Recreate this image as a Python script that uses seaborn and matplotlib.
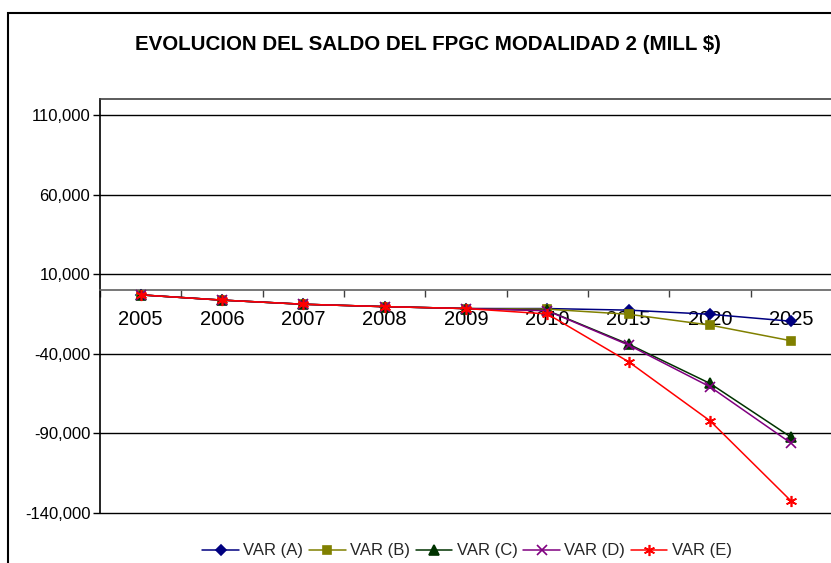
import matplotlib
matplotlib.use("Agg")
import matplotlib.pyplot as plt
import matplotlib.patches as mpatches
import seaborn as sns
import pandas as pd
from matplotlib.ticker import FuncFormatter, FixedLocator

categories = ["2005", "2006", "2007", "2008", "2009", "2010", "2015", "2020", "2025"]
var_a = [-3000, -6300, -8900, -10400, -11600, -11600, -12600, -15200, -19600]
var_b = [-3000, -6300, -8900, -10400, -11600, -12000, -15200, -22000, -31900]
var_c = [-3000, -6300, -8900, -10400, -11600, -12800, -34000, -58700, -92600]
var_d = [-3000, -6300, -8900, -10400, -11600, -13000, -34600, -60800, -96400]
var_e = [-3000, -6300, -8900, -10400, -11600, -15000, -45100, -82200, -132800]
series_names = ["VAR (A)", "VAR (B)", "VAR (C)", "VAR (D)", "VAR (E)"]
y_ticks = [-140000, -90000, -40000, 10000, 60000, 110000]

colors = ["#000080", "#808000", "#003300", "#800080", "#FF0000"]
markers = ["D", "s", "^", "x", (6, 2, 0)]
msizes = [5, 6, 7, 7, 8]

rows = []
for name, vals in zip(series_names, [var_a, var_b, var_c, var_d, var_e]):
    for i, (c, v) in enumerate(zip(categories, vals)):
        rows.append({"pos": i, "year": c, "value": v, "serie": name})
df = pd.DataFrame(rows)

sns.set_theme(style="white")
plt.rcParams["font.family"] = ["Liberation Sans", "DejaVu Sans"]

fig = plt.figure(figsize=(8.31, 5.63), dpi=100)
ax = fig.add_axes([100 / 831, 1 - 512.7 / 563, 732 / 831, (512.7 - 99.3) / 563])

for name, col, mk, ms in zip(series_names, colors, markers, msizes):
    sub = df[df["serie"] == name]
    sns.lineplot(data=sub, x="pos", y="value", ax=ax, color=col, marker=mk,
                 markersize=ms, markeredgecolor=col, markerfacecolor=col,
                 markeredgewidth=1.2, linewidth=1.1, label=name, zorder=3)

ax.set_xlim(-0.5, len(categories) - 0.5)
ax.set_ylim(-140000, 120000)
ax.set_xlabel("")
ax.set_ylabel("")

ax.set_yticks(y_ticks)
ax.yaxis.set_major_formatter(FuncFormatter(lambda v, p: f"{int(v):,}"))
ax.tick_params(axis="y", which="major", left=True, length=5, width=1, color="black",
               direction="out", labelsize=12, pad=2, labelcolor="black")
for yv in y_ticks:
    ax.axhline(yv, color="black", lw=1.0, zorder=1, clip_on=False)

ax.set_xticks(range(len(categories)))
ax.set_xticklabels(categories)
ax.xaxis.set_minor_locator(FixedLocator([i + 0.5 for i in range(-1, len(categories))]))
ax.tick_params(axis="x", which="major", bottom=True, length=0, labelsize=14.5, pad=14,
               labelcolor="black")
ax.tick_params(axis="x", which="minor", bottom=True, length=5, width=1, color="#404040",
               direction="out")

ax.spines["bottom"].set_position(("data", 0))
ax.spines["bottom"].set_color("#606060")
ax.spines["bottom"].set_linewidth(1.2)
ax.spines["left"].set_color("black")
ax.spines["left"].set_linewidth(1.2)
ax.spines["top"].set_color("#404040")
ax.spines["top"].set_linewidth(1.2)
ax.spines["right"].set_visible(False)

ax.get_legend().remove()
handles, labels = ax.get_legend_handles_labels()
fig.legend(handles, labels, loc="center", bbox_to_anchor=(467 / 831, 1 - 551 / 563),
           ncol=5, frameon=False, fontsize=12, handlelength=2.2, handletextpad=0.25,
           columnspacing=0.35, borderaxespad=0)

fig.text(428 / 831, 1 - 44 / 563, "EVOLUCION DEL SALDO DEL FPGC MODALIDAD 2 (MILL $)",
         ha="center", va="center", fontsize=14.8, fontweight="bold", color="black")

frame = mpatches.Rectangle((7.5 / 831, -0.2), 2.0, (1 - 12.5 / 563) + 0.2,
                           transform=fig.transFigure, fill=False, edgecolor="black",
                           linewidth=1.5, zorder=10)
fig.patches.append(frame)

fig.savefig("out.png", dpi=100)
